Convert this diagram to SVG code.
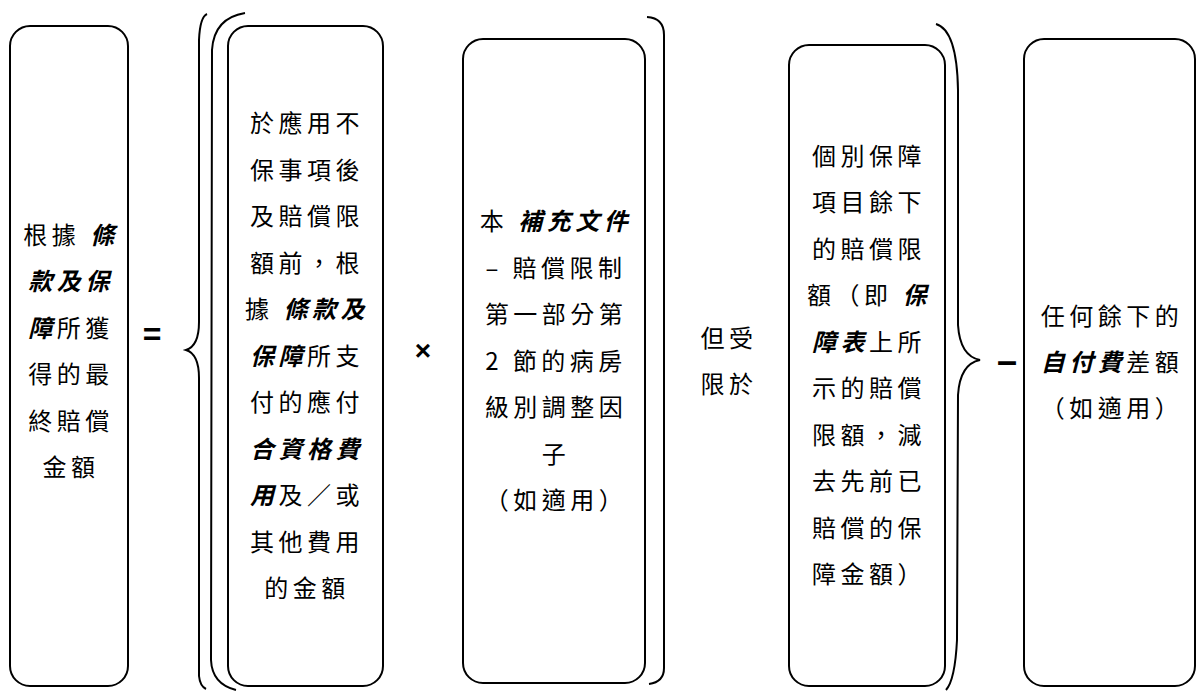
<svg xmlns="http://www.w3.org/2000/svg" width="1197" height="691" viewBox="0 0 1197 691">
<style>
.box{fill:none;stroke:#000;stroke-width:2}
.br{fill:none;stroke:#000;stroke-width:2}
.t{font-family:"Noto Sans CJK TC","Noto Sans CJK SC",sans-serif;font-size:24px;letter-spacing:4.5px;fill:#000;text-anchor:middle}
.em{font-weight:bold;font-style:italic}
.op{font-family:"Liberation Sans","DejaVu Sans",sans-serif;font-weight:bold;fill:#000;text-anchor:middle}
</style>
<rect width="1197" height="691" fill="#fff"/>
<g id="connectors">
<path class="br" d="M207,14 Q200,17 199,40 L199,322 Q199,346 186,350 Q199,354 199,378 L199,676 Q200,686 206,689"/>
<path class="br" d="M245,13 Q214,18 212,50 L211,660 Q212,684 236,690"/>
<path class="br" d="M647,17 Q664,18 664,35 L664,668 Q664,682 649,684"/>
<path class="br" d="M936,24 Q957,30 958,90 L958,325 Q960,356 980,360 Q960,364 958,395 L957,640 Q955,680 946,690"/>
<text class="op" x="152" y="345" font-size="32">=</text>
<text class="op" x="423" y="360" font-size="28">×</text>
<text class="op" x="1007" y="373" font-size="36">–</text>
</g>
<g id="n1">
<rect class="box" x="10" y="26" width="118" height="660" rx="20"/>
<text class="t" x="71" y="243.5">根據 <tspan class="em">條</tspan></text>
<text class="t" x="71" y="290"><tspan class="em">款及保</tspan></text>
<text class="t" x="71" y="336.5"><tspan class="em">障</tspan>所獲</text>
<text class="t" x="71" y="383">得的最</text>
<text class="t" x="71" y="429.5">終賠償</text>
<text class="t" x="71" y="476">金額</text>
</g>
<g id="n2">
<rect class="box" x="228" y="26" width="155" height="660" rx="20"/>
<text class="t" x="307" y="132">於應用不</text>
<text class="t" x="307" y="178.5">保事項後</text>
<text class="t" x="307" y="225">及賠償限</text>
<text class="t" x="307" y="271.5">額前，根</text>
<text class="t" x="307" y="318">據 <tspan class="em">條款及</tspan></text>
<text class="t" x="307" y="364.5"><tspan class="em">保障</tspan>所支</text>
<text class="t" x="307" y="411">付的應付</text>
<text class="t" x="307" y="457.5"><tspan class="em">合資格費</tspan></text>
<text class="t" x="307" y="504"><tspan class="em">用</tspan>及／或</text>
<text class="t" x="307" y="550.5">其他費用</text>
<text class="t" x="307" y="597">的金額</text>
</g>
<g id="n3">
<rect class="box" x="463" y="39" width="182" height="644" rx="20"/>
<text class="t" x="556" y="230">本 <tspan class="em">補充文件</tspan></text>
<text class="t" x="556" y="276.5">– 賠償限制</text>
<text class="t" x="556" y="323">第一部分第</text>
<text class="t" x="556" y="369.5">2 節的病房</text>
<text class="t" x="556" y="416">級別調整因</text>
<text class="t" x="556" y="462.5">子</text>
<text class="t" x="556" y="509">（如適用）</text>
</g>
<g id="n_limit">
<text class="t" x="729" y="346.5">但受</text>
<text class="t" x="729" y="392.5">限於</text>
</g>
<g id="n4">
<rect class="box" x="789" y="45" width="156" height="641" rx="20"/>
<text class="t" x="869" y="164.5">個別保障</text>
<text class="t" x="869" y="211">項目餘下</text>
<text class="t" x="869" y="257.5">的賠償限</text>
<text class="t" x="869" y="304">額（即 <tspan class="em">保</tspan></text>
<text class="t" x="869" y="350.5"><tspan class="em">障表</tspan>上所</text>
<text class="t" x="869" y="397">示的賠償</text>
<text class="t" x="869" y="443.5">限額，減</text>
<text class="t" x="869" y="490">去先前已</text>
<text class="t" x="869" y="536.5">賠償的保</text>
<text class="t" x="869" y="583">障金額）</text>
</g>
<g id="n5">
<rect class="box" x="1024" y="39" width="171" height="647" rx="20"/>
<text class="t" x="1112" y="324.5">任何餘下的</text>
<text class="t" x="1112" y="370.5"><tspan class="em">自付費</tspan>差額</text>
<text class="t" x="1112" y="416.5">（如適用）</text>
</g>
</svg>
